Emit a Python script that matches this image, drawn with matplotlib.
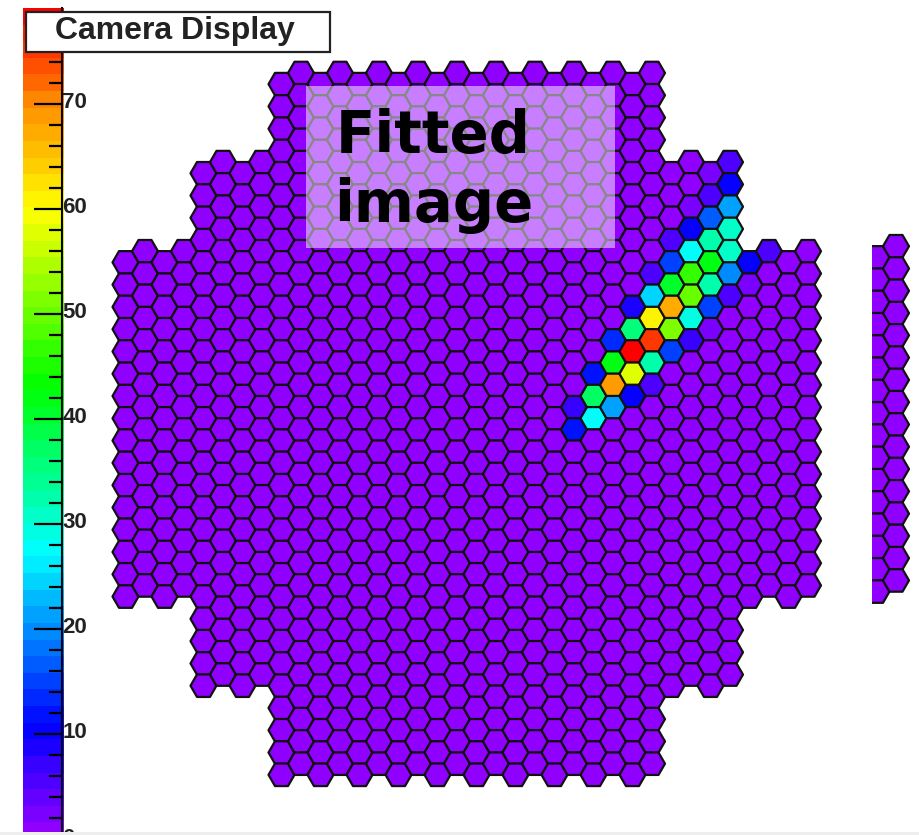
import numpy as np
import matplotlib
matplotlib.use('Agg')
import matplotlib.pyplot as plt
from matplotlib.collections import PolyCollection
from matplotlib.colors import LinearSegmentedColormap, BoundaryNorm
from matplotlib.patches import Rectangle
from matplotlib.transforms import ScaledTranslation

# first and last half-row of every camera column (left to right)
col_top = [17, 16, 17, 16, 9, 8, 9, 8] + [1, 0] * 9 + [1, 0] + [9, 8, 9, 8, 17, 16, 17, 16]
col_bottom = [47, 46, 47, 46, 55, 54, 55, 54] + [63, 62] * 9 + [63, 62] + [55, 54, 55, 54, 47, 46, 47, 46]

# second camera, only its two left columns fit in the picture
right_top = [17, 16]
right_bottom = [47, 46]

# signal pixels: column -> {half-row: charge}
lit_charge = {
    23: {30: 7, 32: 12},
    24: {27: 12, 29: 37, 31: 27},
    25: {24: 14, 26: 42, 28: 69, 30: 21},
    26: {21: 9, 23: 36, 25: 78, 27: 58, 29: 11},
    27: {18: 6, 20: 24, 22: 61, 24: 75, 26: 33, 28: 5},
    28: {15: 5, 17: 15, 19: 40, 21: 68, 23: 51, 25: 15},
    29: {12: 2, 14: 11, 16: 27, 18: 46, 20: 50, 22: 29, 24: 7},
    30: {9: 3, 11: 6, 13: 17, 15: 32, 17: 42, 19: 33, 21: 15, 23: 3},
    31: {8: 5, 10: 10, 12: 21, 14: 31, 16: 31, 18: 20, 20: 6},
    32: {17: 10, 19: 3},
    33: {16: 5},
}

cbar_ticks = [0, 10, 20, 30, 40, 50, 60, 70]
cbar_max = 79.1
n_levels = 50

palette = LinearSegmentedColormap.from_list('root_rainbow', [
    (0 / 79, '#9000ff'), (10 / 79, '#0000ff'), (27 / 79, '#00ffff'),
    (43 / 79, '#00ff00'), (60 / 79, '#ffff00'), (70 / 79, '#ff9000'),
    (79 / 79, '#ff0000')], N=256)
norm = BoundaryNorm(np.linspace(0, cbar_max, n_levels + 1), 256)

W, H = 919, 835
fig = plt.figure(figsize=(W / 100, H / 100), dpi=100)

# colour scale
cax = fig.add_axes([23 / W, (H - 839) / H, 41 / W, 831 / H])
levels = np.linspace(0, cbar_max, n_levels + 1)
cax.pcolormesh([0, 1], levels, (levels[:-1] + levels[1:]).reshape(-1, 1) / 2,
               cmap=palette, norm=norm)
cax.set_ylim(0, cbar_max)
cax.set_xlim(0, 1)
cax.set_xticks([])
for s in ['left', 'top', 'bottom']:
    cax.spines[s].set_visible(False)
cax.spines['right'].set_linewidth(1.5)
cax.spines['right'].set_position(('axes', 0.96))
cax.yaxis.set_ticks_position('right')
cax.set_yticks(cbar_ticks)
cax.set_yticks(np.arange(0, 79, 2), minor=True)
cax.tick_params(axis='y', which='major', direction='in', length=20, width=1.6,
                labelsize=16, pad=0, labelcolor='#222222')
cax.tick_params(axis='y', which='minor', direction='in', length=9.5, width=1.6)
label_shift = ScaledTranslation(0, 3.5 / 100, fig.dpi_scale_trans)
for lab in cax.get_yticklabels():
    lab.set_fontfamily('Liberation Sans')
    lab.set_fontweight('bold')
    lab.set_transform(lab.get_transform() + label_shift)

ax = fig.add_axes([0, 0, 1, 1], zorder=3)
ax.patch.set_visible(False)
ax.set_xlim(0, W)
ax.set_ylim(H, 0)
ax.axis('off')

# hexagon grid in picture pixels
col_step = 19.5
row_step = 11.14
radius = col_step / 1.5
x0, y0 = 125.5, 73
angles = np.radians(np.arange(0, 360, 60))
hex_x = radius * np.cos(angles)
hex_y = radius * np.sin(angles)


def camera_cells(tops, bottoms, first_col=0, dx=0, dy=0):
    verts, charge = [], []
    for i, (t, b) in enumerate(zip(tops, bottoms)):
        k = first_col + i
        for r in range(t, b + 1, 2):
            cx = x0 + col_step * k + dx
            cy = y0 + row_step * r + dy
            verts.append(np.column_stack([cx + hex_x, cy + hex_y]))
            charge.append(lit_charge.get(k, {}).get(r, 0) if dx == 0 else 0)
    return verts, charge


verts, charge = camera_cells(col_top, col_bottom)
main_cam = PolyCollection(verts, array=np.array(charge, dtype=float), cmap=palette,
                          norm=norm, edgecolors='#111111', linewidths=1.6)
ax.add_collection(main_cam)

verts2, charge2 = camera_cells(right_top, right_bottom, first_col=34, dx=88, dy=-5)
right_cam = PolyCollection(verts2, array=np.array(charge2, dtype=float), cmap=palette,
                           norm=norm, edgecolors='#111111', linewidths=1.6)
ax.add_collection(right_cam)
right_cam.set_clip_path(Rectangle((872, 0), 47, H, transform=ax.transData))

# label box over the picture
ax.add_patch(Rectangle((306, 86), 309, 162, facecolor='white', edgecolor='none',
                       alpha=0.5, zorder=4))
ax.text(336, 153, 'Fitted', fontsize=41.5, fontweight='bold', family='DejaVu Sans',
        color='black', ha='left', va='baseline', zorder=5)
ax.text(334, 222, 'image', fontsize=41.5, fontweight='bold', family='DejaVu Sans',
        color='black', ha='left', va='baseline', zorder=5)

# title box
ax.add_patch(Rectangle((26, 12), 304, 40, facecolor='white', edgecolor='#222222',
                       linewidth=1.6, zorder=6))
ax.text(175, 31, 'Camera Display', fontsize=23, fontweight='bold',
        family='Liberation Sans', color='#222222', ha='center', va='center', zorder=7)

# light strip at the bottom edge
ax.add_patch(Rectangle((0, 832), W, 3, facecolor='#eeeeee', edgecolor='none', zorder=8))

fig.savefig('out.png', dpi=100)
